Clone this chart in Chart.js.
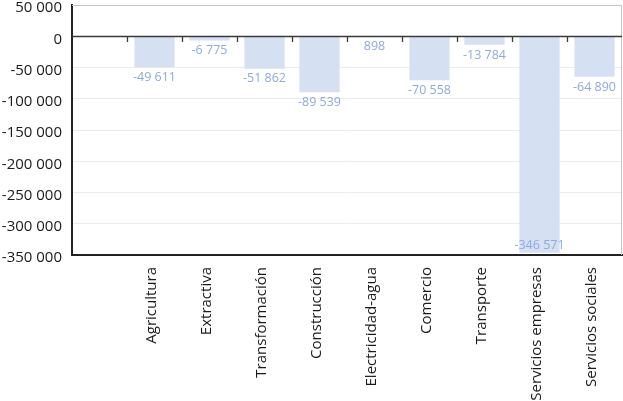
<!DOCTYPE html>
<html><head><meta charset="utf-8">
<script src="https://cdn.jsdelivr.net/npm/chart.js@4/dist/chart.umd.min.js"></script>
<style>html,body{margin:0;padding:0;background:#fff;}#wrap{width:623px;height:401px;}</style>
</head><body><div id="wrap"><canvas id="c" width="623" height="401"></canvas></div>
<script>
const categories = ['', 'Agricultura', 'Extractiva', 'Transformación', 'Construcción', 'Electricidad-agua', 'Comercio', 'Transporte', 'Servicios empresas', 'Servicios sociales'];
const values = [null, -49611, -6775, -51862, -89539, 898, -70558, -13784, -346571, -64890];
const yMin = -350000, yMax = 50000, yStep = 50000;

function fmt(v){
  const s = Math.abs(Math.round(v)).toString().replace(/\B(?=(\d{3})+(?!\d))/g, ' ');
  return (v < 0 ? '-' : '') + s;
}

const FONT = "'Open Sans', sans-serif";

const extras = {
  id: 'extras',
  afterDatasetsDraw(chart){
    const ctx = chart.ctx, ca = chart.chartArea;
    const y = chart.scales.y, x = chart.scales.x;
    const y0 = Math.round(y.getPixelForValue(0));
    ctx.save();
    // frame top / right
    ctx.strokeStyle = '#c4c4c4'; ctx.lineWidth = 1;
    ctx.beginPath();
    ctx.moveTo(ca.left, ca.top + 0.5); ctx.lineTo(ca.right - 0.5, ca.top + 0.5); ctx.lineTo(ca.right - 0.5, ca.bottom);
    ctx.stroke();
    // zero line
    ctx.strokeStyle = '#3a3a3a'; ctx.lineWidth = 1.3;
    ctx.beginPath(); ctx.moveTo(ca.left, y0 + 0.5); ctx.lineTo(ca.right, y0 + 0.5); ctx.stroke();
    // category boundary ticks
    for (let i = 1; i < categories.length; i++){
      const px = Math.round((x.getPixelForValue(i - 1) + x.getPixelForValue(i)) / 2) + 0.5;
      ctx.beginPath(); ctx.moveTo(px, y0); ctx.lineTo(px, y0 + 6); ctx.stroke();
    }
    // value labels
    ctx.fillStyle = '#8eaadc';
    ctx.font = "12.5px " + FONT;
    ctx.textAlign = 'center'; ctx.textBaseline = 'top';
    const meta = chart.getDatasetMeta(0);
    values.forEach((v, i) => {
      if (v === null) return;
      const el = meta.data[i];
      let ty = Math.max(el.y, el.base) + 4;
      if (ty + 13 > ca.bottom) ty = ca.bottom - 16;
      ctx.fillText(fmt(v), el.x, ty);
    });
    ctx.restore();
  }
};

new Chart(document.getElementById('c'), {
  type: 'bar',
  data: {
    labels: categories,
    datasets: [{ data: values, backgroundColor: '#d5e0f2', borderWidth: 0, categoryPercentage: 0.73, barPercentage: 1 }]
  },
  options: {
    responsive: false, animation: false,
    layout: { padding: { top: 5, right: 1, left: 0, bottom: 0 } },
    plugins: { legend: { display: false }, tooltip: { enabled: false } },
    scales: {
      x: {
        offset: true,
        grid: { display: false, drawTicks: false },
        border: { display: true, color: '#222', width: 2 },
        ticks: { color: '#1a1a1a', font: { family: FONT, size: 15 }, minRotation: 90, maxRotation: 90, autoSkip: false, padding: 12, labelOffset: -3 },
        afterFit(s){ s.height = 146; s.paddingLeft = 0; s.paddingRight = 0; }
      },
      y: {
        min: yMin, max: yMax,
        grid: { color: ctx => ctx.tick && ctx.tick.value === 0 ? 'rgba(0,0,0,0)' : '#ebebeb', drawTicks: false },
        border: { display: true, color: '#222', width: 2 },
        ticks: { stepSize: yStep, color: '#1a1a1a', font: { family: FONT, size: 15 }, padding: 10, labelOffset: 3, callback: v => fmt(v) },
        afterFit(s){ s.width = 72; s.paddingTop = 0; s.paddingBottom = 0; }
      }
    }
  },
  plugins: [extras]
});
</script></body></html>
